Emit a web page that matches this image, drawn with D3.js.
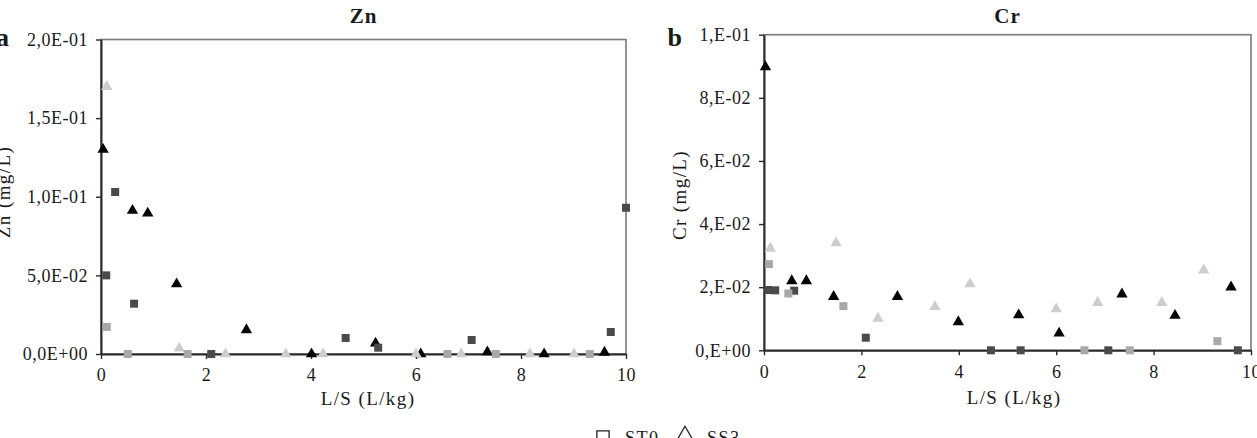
<!DOCTYPE html>
<html><head><meta charset="utf-8">
<script src="https://cdn.jsdelivr.net/npm/d3@7"></script>
<style>body{margin:0;background:#fff}svg{display:block}text{font-family:"Liberation Serif","Times New Roman",serif;fill:#1a1a1a}</style>
</head><body><svg id="c" width="1257" height="438"></svg>
<script>
// ---- tick values / labels ----
const xTicks=[0,2,4,6,8,10];
const znYTicks=[0,0.05,0.1,0.15,0.2];
const znYLabels=["0,0E+00","5,0E-02","1,0E-01","1,5E-01","2,0E-01"];
const crYTicks=[0,0.02,0.04,0.06,0.08,0.1];
const crYLabels=["0,E+00","2,E-02","4,E-02","6,E-02","8,E-02","1,E-01"];

// ---- Zn (panel a) ----
const znSqDarkX=[0.1,0.27,0.63,2.1,4.66,5.28,7.06,9.71,10.0];
const znSqDarkY=[0.05,0.103,0.032,0,0.0102,0.004,0.0089,0.014,0.093];
const znSqLightX=[0.11,0.51,1.65,6.6,7.52,9.31];
const znSqLightY=[0.0172,0,0,0,0,0];
const znTriBlackX=[0.04,0.6,0.89,1.44,2.77,4.01,5.23,6.09,7.36,8.44,9.59];
const znTriBlackY=[0.130,0.0912,0.0895,0.0445,0.0153,0,0.0068,0,0.0013,0,0.001];
const znTriLightX=[0.11,1.49,2.37,3.52,4.23,6.0,6.86,8.17,9.01];
const znTriLightY=[0.17,0.0036,0,0,0,0,0,0,0];

// ---- Cr (panel b) ----
const crSqDarkX=[0.09,0.23,0.62,2.09,4.66,5.27,7.07,9.73];
const crSqDarkY=[0.0191,0.019,0.0189,0.004,0,0,0,0];
const crSqLightX=[0.10,0.50,1.63,6.58,7.51,9.31];
const crSqLightY=[0.0273,0.018,0.014,0,0,0.0029];
const crTriBlackX=[0.03,0.57,0.87,1.43,2.74,3.99,5.23,6.06,7.35,8.44,9.59];
const crTriBlackY=[0.0898,0.022,0.022,0.017,0.017,0.009,0.0112,0.0054,0.0178,0.011,0.020];
const crTriLightX=[0.13,1.48,2.34,3.51,4.23,6.0,6.85,8.17,9.03];
const crTriLightY=[0.0323,0.034,0.0101,0.0138,0.021,0.0131,0.0151,0.0151,0.0254];

const legendNames=["ST0","SS3"];

const svg=d3.select("#c");
const FONT='"Liberation Serif","Times New Roman",serif';
const colDarkSq="#4a4a4a", colLightSq="#a8a8a8", colBlackTri="#050505", colLightTri="#cdcdcd";
const triPath=d3.symbol().type(d3.symbolTriangle).size(56)();
const sqPath=d3.symbol().type(d3.symbolSquare).size(64)();

function panel(o){
  const x=d3.scaleLinear().domain([0,10]).range([o.x0,o.x1]);
  const y=d3.scaleLinear().domain([0,o.ymax]).range([o.y0,o.y1]);
  const g=svg.append("g");
  g.append("rect").attr("x",o.x0).attr("y",o.y1).attr("width",o.x1-o.x0).attr("height",o.y0-o.y1)
    .attr("fill","none").attr("stroke","#7a7a7a").attr("stroke-width",1.6);
  const ax=g.append("g").attr("transform",`translate(0,${o.y0})`)
    .call(d3.axisBottom(x).tickValues(xTicks).tickFormat(d3.format("d")).tickSize(5).tickSizeOuter(0).tickPadding(o.xpad));
  const ay=g.append("g").attr("transform",`translate(${o.x0},0)`)
    .call(d3.axisLeft(y).tickValues(o.yTicks).tickFormat((d,i)=>o.yLabels[i]).tickSize(5).tickSizeOuter(0).tickPadding(8));
  [ax,ay].forEach(a=>{
    a.attr("font-family",FONT);
    a.select(".domain").attr("stroke","#2a2a2a").attr("stroke-width",2);
    a.selectAll(".tick line").attr("stroke","#2a2a2a").attr("stroke-width",1.4);
    a.selectAll("text").attr("font-family",FONT).attr("font-size",18)
      .attr("letter-spacing","0.5px").attr("fill","#222");
  });
  const series=[
    [o.tbx,o.tby,triPath,colBlackTri],
    [o.tlx,o.tly,triPath,colLightTri],
    [o.sdx,o.sdy,sqPath,colDarkSq],
    [o.slx,o.sly,sqPath,colLightSq]
  ];
  series.forEach(([xs,ys,p,c])=>{
    g.append("g").selectAll("path").data(xs.map((v,i)=>[v,ys[i]])).join("path")
      .attr("d",p).attr("fill",c)
      .attr("transform",d=>`translate(${x(d[0])},${y(d[1])})`);
  });
  g.append("text").attr("x",(o.x0+o.x1)/2).attr("y",23).attr("text-anchor","middle").attr("font-family",FONT)
    .attr("font-size",21).attr("font-weight","bold").attr("letter-spacing","1px").attr("fill","#111").text(o.title);
  g.append("text").attr("x",o.lx).attr("y",46).attr("text-anchor","end").attr("font-family",FONT)
    .attr("font-size",26).attr("font-weight","bold").attr("fill","#111").text(o.letter);
  g.append("text").attr("x",o.xtx).attr("y",o.xty).attr("text-anchor","middle").attr("font-family",FONT)
    .attr("font-size",19).attr("letter-spacing","1.4px").attr("fill","#222").text("L/S (L/kg)");
  g.append("text").attr("transform",`translate(${o.ytx},${o.yty}) rotate(-90)`).attr("text-anchor","middle").attr("font-family",FONT)
    .attr("font-size",19).attr("letter-spacing","1.4px").attr("fill","#222").text(o.ytitle);
}

panel({x0:101,x1:626,y0:354,y1:39.5,ymax:0.2,yTicks:znYTicks,yLabels:znYLabels,xpad:9,
  sdx:znSqDarkX,sdy:znSqDarkY,slx:znSqLightX,sly:znSqLightY,tbx:znTriBlackX,tby:znTriBlackY,tlx:znTriLightX,tly:znTriLightY,
  title:"Zn",letter:"a",lx:9,xtx:368,xty:405,ytx:10,yty:192,ytitle:"Zn (mg/L)"});
panel({x0:764,x1:1251,y0:350.3,y1:34.7,ymax:0.1,yTicks:crYTicks,yLabels:crYLabels,xpad:10,
  sdx:crSqDarkX,sdy:crSqDarkY,slx:crSqLightX,sly:crSqLightY,tbx:crTriBlackX,tby:crTriBlackY,tlx:crTriLightX,tly:crTriLightY,
  title:"Cr",letter:"b",lx:682,xtx:1014,xty:404,ytx:686,yty:195,ytitle:"Cr (mg/L)"});

// legend (cut off at the bottom edge as in the reference)
const leg=svg.append("g");
const legSyms=[d3.symbol().type(d3.symbolSquare).size(150)(),d3.symbol().type(d3.symbolTriangle).size(150)()];
const legX=[603,685];
legendNames.forEach((n,i)=>{
  leg.append("path").attr("d",legSyms[i]).attr("transform",`translate(${legX[i]},${437})`)
    .attr("fill","#fff").attr("stroke","#222").attr("stroke-width",1.3);
  leg.append("text").attr("x",legX[i]+22).attr("y",444).attr("font-family",FONT).attr("font-size",18).attr("letter-spacing","1.5px").attr("fill","#222").text(n);
});
</script></body></html>
